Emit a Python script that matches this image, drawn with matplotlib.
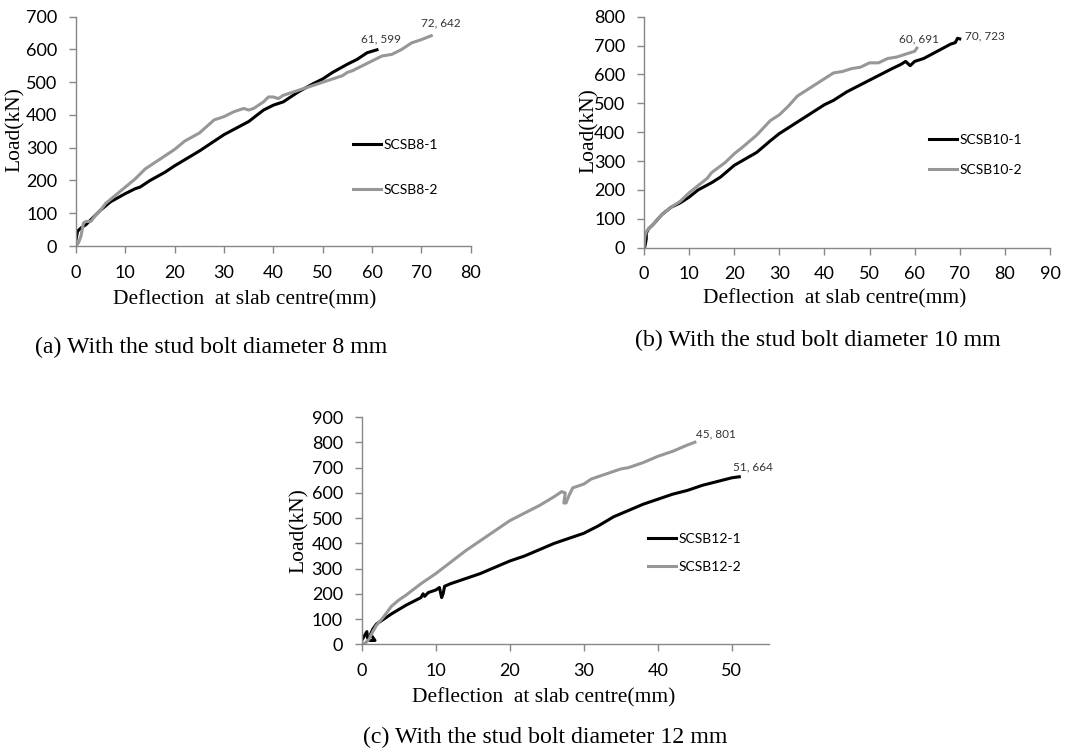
import matplotlib
matplotlib.use("Agg")
import matplotlib.pyplot as plt

# ---- data (deflection mm, load kN) ----
b8_1_x = [0, 0.3, 1, 2, 3, 5, 7, 10, 12, 13, 15, 18, 20, 25, 30, 35, 38, 40, 42, 45, 48, 50, 52, 55, 57, 59, 61]
b8_1_y = [20, 45, 55, 65, 80, 110, 135, 160, 175, 180, 200, 225, 245, 290, 340, 380, 415, 430, 440, 470, 495, 510, 530, 555, 570, 590, 599]
b8_2_x = [0, 0.5, 1, 1.5, 2, 3, 4, 5, 6, 8, 10, 12, 14, 16, 18, 20, 22, 25, 28, 30, 32, 34, 35, 36, 38, 39, 40,
          41, 42, 44, 46, 48, 50, 52, 54, 55, 56, 58, 60, 62, 64, 66, 68, 70, 72]
b8_2_y = [0, 10, 30, 70, 75, 75, 95, 110, 130, 155, 180, 205, 235, 255, 275, 295, 320, 345, 385, 395, 410, 420, 415, 420, 440, 455, 455,
          450, 460, 470, 480, 490, 500, 510, 520, 530, 535, 550, 565, 580, 585, 600, 620, 630, 642]

b10_1_x = [0.2, 0.5, 0.5, 1, 2, 4, 6, 8, 10, 12, 15, 17, 20, 25, 28, 30, 35, 40, 42, 45, 50, 55, 57, 58, 59, 60, 62, 65, 68, 69, 69.5, 70]
b10_1_y = [5, 30, 50, 65, 80, 115, 140, 155, 175, 200, 225, 245, 285, 330, 370, 395, 445, 495, 510, 540, 580, 620, 635, 645, 630, 645, 655, 680, 705, 710, 725, 723]
b10_2_x = [0, 0.2, 0.5, 1, 2, 4, 6, 8, 10, 12, 14, 15, 18, 20, 22, 25, 28, 30, 32, 34, 36, 38, 40, 42, 44, 46, 48, 50, 52, 54, 56, 58, 60, 60.5]
b10_2_y = [0, 40, 55, 65, 80, 115, 140, 160, 190, 215, 240, 260, 295, 325, 350, 390, 440, 460, 490, 525, 545, 565, 585, 605, 610, 620, 625, 640, 640, 655, 660, 670, 680, 691]

b12_1_x = [0, 0.3, 0.7, 0.8, 1.0, 1.8, 1.2, 1.5, 2, 3, 4, 6, 8, 8.3, 8.5, 9, 10, 10.5, 10.8, 11, 11.2, 12, 14, 16, 18, 20,
           22, 24, 26, 28, 29, 30, 32, 34, 36, 38, 40, 42, 44, 46, 48, 50, 51]
b12_1_y = [15, 30, 50, 25, 15, 15, 40, 60, 80, 100, 120, 155, 185, 200, 190, 205, 215, 225, 185, 200, 230, 240, 260, 280, 305, 330,
           350, 375, 400, 420, 430, 440, 470, 505, 530, 555, 575, 595, 610, 630, 645, 660, 664]
b12_2_x = [0, 0.5, 1, 1.5, 2, 3, 4, 5, 6, 8, 10, 12, 14, 16, 18, 20, 22, 24, 26, 27, 27.5, 27.3, 27.6, 28, 28.5, 30, 31,
           33, 35, 36, 38, 40, 42, 44, 45]
b12_2_y = [0, 5, 20, 50, 75, 110, 150, 175, 195, 240, 280, 325, 370, 410, 450, 490, 520, 550, 585, 605, 600, 560, 560, 590, 620, 635, 655,
           675, 695, 700, 720, 745, 765, 790, 801]

panels = [
    dict(rect=[0.0714, 0.6746, 0.3706, 0.3033], xs=(b8_1_x, b8_2_x), ys=(b8_1_y, b8_2_y),
         names=("SCSB8-1", "SCSB8-2"), xlim=80, xstep=10, ylim=700, ystep=100,
         ylab=(-0.129, 0.506), xlab=(0.428, -0.192), leg=(0.702, 0.342), spacing=2.4,
         notes=[(61, 599, (4, 11), "center", "center"), (72, 642, (10, 13), "center", "center")]),
    dict(rect=[0.6047, 0.6724, 0.3812, 0.3056], xs=(b10_1_x, b10_2_x), ys=(b10_1_y, b10_2_y),
         names=("SCSB10-1", "SCSB10-2"), xlim=90, xstep=10, ylim=800, ystep=100,
         ylab=(-0.11, 0.506), xlab=(0.47, -0.179), leg=(0.702, 0.403), spacing=1.3,
         notes=[(60, 691, (4, 9), "center", "center"), (70, 723, (5, 3), "left", "center")]),
    dict(rect=[0.3396, 0.1478, 0.3824, 0.3003], xs=(b12_1_x, b12_2_x), ys=(b12_1_y, b12_2_y),
         names=("SCSB12-1", "SCSB12-2"), xlim=55, xstep=10, ylim=900, ystep=100,
         ylab=(-0.129, 0.5), xlab=(0.448, -0.193), leg=(0.703, 0.404), spacing=1.15,
         notes=[(45, 801, (21, 8), "center", "center"), (51, 664, (14, 10), "center", "center")]),
]

captions = [(0.198, 0.541, "(a) With the stud bolt diameter 8 mm"),
            (0.768, 0.550, "(b) With the stud bolt diameter 10 mm"),
            (0.512, 0.024, "(c) With the stud bolt diameter 12 mm")]

sans = "Lato"
serif = "Liberation Serif"
spine_col = "#878787"

fig = plt.figure(figsize=(10.65, 7.56), dpi=100)

for p in panels:
    ax = fig.add_axes(p["rect"])
    ax.plot(p["xs"][0], p["ys"][0], color="black", lw=2.2, label=p["names"][0])
    ax.plot(p["xs"][1], p["ys"][1], color="#979797", lw=2.2, label=p["names"][1])
    ax.set_xlim(0, p["xlim"])
    ax.set_ylim(0, p["ylim"])
    ax.set_xticks(range(0, p["xlim"] + 1, p["xstep"]))
    ax.set_yticks(range(0, p["ylim"] + 1, p["ystep"]))
    for s in ("top", "right"):
        ax.spines[s].set_visible(False)
    for s in ("left", "bottom"):
        ax.spines[s].set_color(spine_col)
        ax.spines[s].set_linewidth(1.0)
    ax.tick_params(axis="both", direction="out", length=5, width=1.0, color=spine_col,
                   labelsize=13, pad=8.5)
    ax.tick_params(axis="x", pad=8.5)
    for lbl in ax.get_xticklabels() + ax.get_yticklabels():
        lbl.set_fontfamily(sans)
    ax.set_ylabel("Load(kN)", fontfamily=serif, fontsize=15.5)
    ax.set_xlabel("Deflection  at slab centre(mm)", fontfamily=serif, fontsize=15.5)
    ax.yaxis.set_label_coords(*p["ylab"])
    ax.xaxis.set_label_coords(*p["xlab"])
    ax.legend(loc="center left", bbox_to_anchor=p["leg"], frameon=False, borderpad=0,
              borderaxespad=0, handlelength=2.0, handletextpad=0.2, labelspacing=p["spacing"],
              prop={"family": sans, "size": 10})
    for x, y, off, ha, va in p["notes"]:
        ax.annotate(f"{x}, {y}", (x, y), xytext=off, textcoords="offset pixels",
                    ha=ha, va=va, fontsize=8.5, fontfamily=sans, color="#333333")

for x, y, t in captions:
    fig.text(x, y, t, ha="center", va="center", fontfamily=serif, fontsize=17.2)

fig.savefig("out.png", dpi=100)
